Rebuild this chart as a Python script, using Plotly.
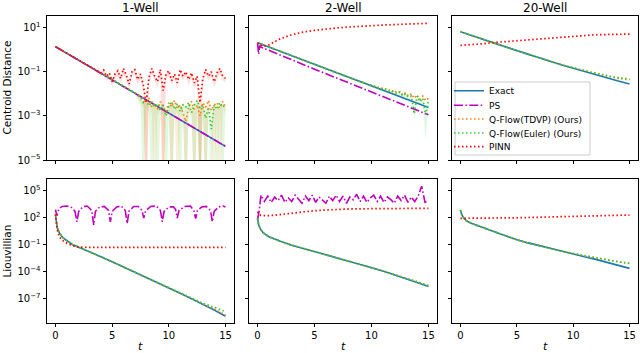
import numpy as np
import plotly.graph_objects as go

# values are log10 of what is plotted (all y axes are log)

# ---------------- top row: centroid distance ----------------
t_full = [0, 1, 2, 3, 4, 5, 6, 7, 8, 9, 10, 11, 12, 13, 14, 15]

# 1-Well
exact_w1 = [0.14, -0.16, -0.46, -0.76, -1.06, -1.36, -1.67, -1.97, -2.27, -2.57, -2.87, -3.17, -3.47, -3.77, -4.07, -4.38]
ps_w1 = [0.14, -0.16, -0.46, -0.76, -1.06, -1.36, -1.67, -1.97, -2.27, -2.57, -2.87, -3.17, -3.47, -3.77, -4.07, -4.38]

t_w1_q = [0, 1, 2, 3, 4, 5, 6, 7] + list(np.round(np.arange(7.5, 15.01, 0.25), 2))
tdvp_w1 = [0.14, -0.16, -0.46, -0.76, -1.06, -1.36, -1.66, -1.96,
           -2.1, -2.3, -2.4, -2.2, -2.6, -2.45, -2.7, -2.35, -2.55, -2.8, -2.4, -2.6, -2.3, -2.65, -2.5, -2.9,
           -3.25, -2.55, -2.35, -2.7, -2.5, -3.0, -2.4, -2.6, -2.3, -2.75, -2.5, -2.4, -2.65, -2.35, -2.6]
tdvp_w1_lo = [0.1, -0.2, -0.5, -0.8, -1.1, -1.4, -1.7, -2.0,
              -2.4, -2.6, -7, -2.5, -2.9, -7, -3.0, -2.7, -7, -3.1, -2.7, -7, -2.6, -7, -2.8, -3.2,
              -7, -2.9, -2.7, -7, -2.8, -7, -2.7, -7, -2.6, -3.0, -7, -2.7, -7, -2.6, -2.9]
euler_w1 = [0.14, -0.16, -0.46, -0.76, -1.06, -1.36, -1.66, -1.96,
            -2.15, -2.4, -2.3, -2.55, -2.35, -2.6, -2.45, -2.75, -2.5, -3.0, -2.55, -2.35, -2.7, -2.45, -2.8, -2.5,
            -2.6, -2.4, -2.85, -2.5, -2.3, -2.65, -2.5, -3.1, -2.6, -3.6, -2.5, -2.7, -2.4, -2.6, -2.45]
euler_w1_lo = [0.1, -0.2, -0.5, -0.8, -1.1, -1.4, -1.7, -2.0,
               -2.5, -7, -2.6, -2.9, -7, -2.9, -7, -3.0, -2.8, -7, -2.9, -7, -3.0, -2.8, -7, -2.8,
               -7, -2.7, -3.1, -7, -2.6, -7, -2.8, -7, -2.9, -7, -2.8, -7, -2.7, -7, -2.8]

t_w1_p = [0, 1, 2, 3] + list(np.round(np.arange(3.5, 15.01, 0.25), 2))
pinn_w1 = [0.14, -0.16, -0.46, -0.76,
           -0.88, -0.95, -1.05, -0.92, -1.2, -1.05, -1.45, -1.1, -0.95, -1.3,
           -0.85, -1.15, -1.55, -1.0, -0.9, -1.35, -1.1, -1.6, -2.4, -1.25,
           -0.85, -1.2, -1.45, -0.9, -1.85, -1.1, -0.95, -1.4, -1.1, -1.5,
           -0.9, -1.2, -1.0, -1.35, -1.05, -1.5, -1.2, -2.4, -1.3, -0.9,
           -1.2, -1.0, -1.45, -1.05, -0.85, -1.2, -1.3]
pinn_w1_lo = [0.1, -0.2, -0.5, -0.8,
              -1.0, -1.1, -1.2, -1.1, -1.4, -1.3, -1.7, -1.3, -1.2, -1.5,
              -1.1, -1.4, -1.8, -1.2, -1.1, -1.6, -1.3, -1.9, -7, -1.5,
              -1.1, -1.4, -1.7, -1.1, -7, -1.3, -1.2, -1.6, -1.3, -1.8,
              -1.1, -1.4, -1.2, -1.6, -1.3, -1.8, -1.4, -7, -1.5, -1.1,
              -1.4, -1.2, -1.7, -1.3, -1.1, -1.4, -1.5]

# 2-Well
exact_w2 = [0.32, 0.12, -0.07, -0.27, -0.46, -0.66, -0.86, -1.05, -1.25, -1.44, -1.64, -1.84, -2.03, -2.23, -2.42, -2.62]
t_w2_ps = [0, 0.1, 0.2, 0.3, 5, 10, 14.7, 15]
ps_w2 = [0.3, -0.2, 0.2, 0.12, -0.88, -1.91, -2.88, -2.95]
t_w2_q = [0, 1, 2, 3, 4, 5, 6, 7, 8, 9, 10] + list(np.round(np.arange(10.5, 15.01, 0.25), 2))
tdvp_w2 = [0.32, 0.12, -0.07, -0.27, -0.46, -0.66, -0.86, -1.05, -1.25, -1.44, -1.62,
           -1.68, -1.75, -1.74, -1.82, -1.8, -1.92, -1.85, -1.95, -1.9, -2.05, -1.95, -2.1, -2.0, -2.2,
           -2.05, -2.25, -2.1, -2.3, -2.2]
euler_w2 = [0.32, 0.12, -0.07, -0.27, -0.46, -0.66, -0.86, -1.05, -1.25, -1.44, -1.63,
            -1.7, -1.72, -1.8, -1.78, -1.88, -1.85, -1.9, -2.0, -1.92, -2.1, -2.0, -2.15, -2.1, -2.9,
            -2.1, -2.35, -2.2, -2.95, -2.3]
euler_w2_lo = [0.3, 0.1, -0.1, -0.3, -0.5, -0.7, -0.9, -1.1, -1.3, -1.5, -1.7,
               -1.8, -1.85, -1.9, -1.9, -2.0, -2.0, -2.05, -2.15, -2.1, -2.3, -2.15, -2.35, -2.3, -3.2,
               -2.3, -2.6, -2.4, -4.1, -2.5]
t_w2_p = [0, 0.5, 1, 1.5, 2, 3, 4, 5, 6, 7, 8, 9, 10, 11, 12, 13, 14, 15]
pinn_w2 = [0.32, 0.15, 0.22, 0.38, 0.5, 0.68, 0.8, 0.88, 0.95, 0.99, 1.03, 1.07, 1.1, 1.12, 1.14, 1.16, 1.18, 1.2]

# 20-Well
exact_w20 = [0.82, 0.64, 0.47, 0.30, 0.13, -0.04, -0.21, -0.37, -0.53, -0.69, -0.84, -0.99, -1.13, -1.28, -1.42, -1.55]
t_w20_q = [0, 1, 2, 3, 4, 5, 6, 7, 8, 9, 9.5, 10, 10.5, 11, 11.5, 12, 12.5, 13, 13.5, 14, 14.5, 15]
tdvp_w20 = [0.82, 0.64, 0.47, 0.30, 0.13, -0.04, -0.21, -0.37, -0.53, -0.69,
            -0.75, -0.82, -0.88, -0.95, -1.0, -1.07, -1.1, -1.2, -1.21, -1.3, -1.27, -1.37]
euler_w20 = [0.82, 0.64, 0.47, 0.30, 0.13, -0.04, -0.21, -0.37, -0.53, -0.69,
             -0.76, -0.81, -0.9, -0.94, -1.02, -1.06, -1.15, -1.16, -1.25, -1.26, -1.35, -1.33]
pinn_w20 = [0.20, 0.22, 0.27, 0.33, 0.37, 0.41, 0.45, 0.48, 0.52, 0.57, 0.62, 0.65, 0.68, 0.69, 0.70, 0.71]

# ---------------- bottom row: Liouvillian ----------------
# 1-Well
t_l1 = [0, 0.05, 0.15, 0.3, 0.5, 0.75, 1, 1.5, 2, 2.5, 3, 4, 5, 6, 7, 8, 9, 10, 11, 12, 13, 14, 15]
exact_l1 = [2.3, 1.5, 0.9, 0.4, 0.0, -0.32, -0.55, -0.98, -1.25, -1.5, -1.8, -2.33, -2.9, -3.47, -4.03, -4.6,
            -5.2, -5.8, -6.4, -7.0, -7.6, -8.25, -8.95]
tdvp_l1 = [2.3, 1.5, 0.9, 0.4, 0.0, -0.32, -0.55, -0.98, -1.25, -1.5, -1.8, -2.33, -2.9, -3.47, -4.03, -4.6,
           -5.2, -5.8, -6.4, -6.98, -7.55, -8.15, -8.8]
euler_l1 = [2.3, 1.5, 0.9, 0.4, 0.0, -0.32, -0.55, -0.98, -1.25, -1.5, -1.8, -2.33, -2.9, -3.47, -4.03, -4.6,
            -5.2, -5.8, -6.4, -6.95, -7.5, -7.95, -8.45]
t_l1_p = [0, 0.05, 0.15, 0.3, 0.5, 0.86, 1.45, 2.0, 2.5, 3, 5, 10, 15]
pinn_l1 = [2.4, 1.4, 0.7, 0.0, -0.4, -0.75, -1.1, -1.26, -1.29, -1.3, -1.3, -1.3, -1.3]
t_l1_ps = [0, 0.12, 0.3, 0.6, 1.0, 1.4, 1.72, 1.89, 2.05, 2.4, 2.8, 3.2, 3.37, 3.52, 3.9, 4.3, 4.68, 4.84,
           5.0, 5.4, 5.8, 6.16, 6.32, 6.48, 6.9, 7.3, 7.63, 7.79, 7.95, 8.4, 8.9, 9.26, 9.42, 9.58, 10.0,
           10.4, 10.6, 10.74, 10.9, 11.4, 11.9, 12.2, 12.37, 12.53, 12.9, 13.3, 13.68, 13.84, 14.0, 14.4,
           14.8, 15.0]
ps_l1 = [2.9, 2.2, 3.0, 3.25, 3.3, 3.15, 2.7, 1.55, 2.7, 3.2, 3.3, 2.8, 1.2, 2.7, 3.2, 3.25, 2.8, 1.55,
         2.7, 3.2, 3.3, 2.8, 1.35, 2.7, 3.25, 3.25, 2.8, 1.95, 2.75, 3.25, 3.3, 2.8, 1.55, 2.7, 3.2,
         3.2, 2.9, 1.95, 2.8, 3.25, 3.3, 2.8, 1.9, 2.8, 3.2, 3.25, 2.8, 1.55, 2.7, 3.2,
         3.3, 3.2]

# 2-Well
t_l2 = [0, 0.1, 0.25, 0.5, 1, 1.5, 2, 3, 4, 5, 6, 7, 8, 9, 10, 11, 12, 13, 14, 15]
exact_l2 = [1.93, 1.2, 0.75, 0.3, -0.12, -0.4, -0.62, -1.05, -1.4, -1.72, -2.07, -2.43, -2.8, -3.17,
            -3.55, -3.93, -4.33, -4.75, -5.2, -5.65]
tdvp_l2 = [1.93, 1.2, 0.75, 0.3, -0.12, -0.4, -0.62, -1.05, -1.4, -1.72, -2.07, -2.43, -2.8, -3.17,
           -3.55, -3.92, -4.3, -4.68, -5.1, -5.55]
euler_l2 = [1.93, 1.2, 0.75, 0.3, -0.12, -0.4, -0.62, -1.05, -1.4, -1.72, -2.07, -2.43, -2.8, -3.17,
            -3.55, -3.92, -4.31, -4.7, -5.12, -5.55]
t_l2_p = [0, 0.1, 0.3, 1, 2, 3, 4, 5, 6, 7, 8, 10, 12, 15]
pinn_l2 = [2.67, 2.4, 2.25, 2.22, 2.35, 2.5, 2.65, 2.78, 2.86, 2.92, 2.97, 3.0, 3.02, 3.04]
t_l2_ps = [0, 0.15, 0.3] + list(np.round(np.linspace(0.6, 15.0, 49), 2))
ps_l2 = [1.8, 2.8, 4.5,
         3.8, 4.4, 3.7, 4.3, 3.9, 4.5, 3.7, 4.2, 3.8, 4.5,
         4.0, 3.6, 4.4, 3.9, 4.5, 3.7, 4.3, 4.0, 3.6, 4.4,
         3.9, 4.5, 3.8, 4.4, 3.6, 4.3, 4.0, 4.6, 3.8, 4.4,
         3.7, 4.2, 4.5, 3.8, 4.4, 3.7, 4.3, 4.0, 3.6, 4.4,
         3.9, 4.5, 3.7, 4.3, 3.8, 4.4, 5.5, 3.7, 3.9]

# 20-Well
t_l20 = [0, 0.1, 0.3, 0.6, 1, 1.5, 2, 3, 4, 5, 6, 7, 8, 9, 10, 11, 12, 13, 14, 15]
exact_l20 = [2.85, 2.4, 1.93, 1.6, 1.35, 1.1, 0.9, 0.45, 0.0, -0.45, -0.8, -1.12, -1.42, -1.73, -2.03,
             -2.33, -2.63, -2.95, -3.3, -3.63]
tdvp_l20 = [2.85, 2.4, 1.93, 1.6, 1.35, 1.1, 0.9, 0.45, 0.0, -0.45, -0.8, -1.12, -1.42, -1.72, -1.98,
            -2.24, -2.48, -2.7, -2.88, -3.07]
euler_l20 = [2.85, 2.4, 1.93, 1.6, 1.35, 1.1, 0.9, 0.45, 0.0, -0.45, -0.8, -1.12, -1.42, -1.72, -1.97,
             -2.22, -2.46, -2.69, -2.9, -3.08]
pinn_l20 = [1.93, 1.93, 1.94, 1.95, 1.97, 1.99, 2.02, 2.05, 2.08, 2.11, 2.15, 2.18, 2.21, 2.24, 2.27, 2.3]

titles = ["1-Well", "2-Well", "20-Well"]
row_labels = ["Centroid Distance", "Liouvillian"]
names = ["Exact", "PS", "Q-Flow(TDVP) (Ours)", "Q-Flow(Euler) (Ours)", "PINN"]

# ---------------- styling ----------------
W, H = 640, 353
FONT = "DejaVu Sans"
DOT = "1.5px,2.5px"
DASHDOT = "9px,2.4px,1.5px,2.4px"
styles = {
    "Exact": dict(color="#1f77b4", width=1.6, dash="solid"),
    "PS": dict(color="#bf00bf", width=1.6, dash=DASHDOT),
    "Q-Flow(TDVP) (Ours)": dict(color="#ff7f0e", width=1.7, dash=DOT),
    "Q-Flow(Euler) (Ours)": dict(color="#32cd32", width=1.7, dash=DOT),
    "PINN": dict(color="#ff0000", width=1.7, dash=DOT),
}
band_fill = {
    "Q-Flow(TDVP) (Ours)": "rgba(255,127,14,0.15)",
    "Q-Flow(Euler) (Ours)": "rgba(50,205,50,0.15)",
    "PINN": "rgba(255,0,0,0.13)",
}

xdom = [(47, 234), (249, 437), (452, 638)]
ydom = [(16, 160), (179, 323)]  # pixel rows, top to bottom
yrange = [[-5, 1.53], [-9.7, 6.3]]
ytick_exp = [[1, -1, -3, -5], [5, 2, -1, -4, -7]]

fig = go.Figure()


def ax_ids(row, col):
    k = row * 3 + col + 1
    return ("x" if k == 1 else f"x{k}"), ("y" if k == 1 else f"y{k}")


def pw(v):
    return np.power(10.0, np.array(v, dtype=float))


def add_line(row, col, x, y, name, legend=None):
    xa, ya = ax_ids(row, col)
    fig.add_trace(go.Scatter(
        x=x, y=pw(y), mode="lines", name=name, line=styles[name],
        xaxis=xa, yaxis=ya, hoverinfo="skip",
        showlegend=legend is not None, legend=legend or "legend"))


def add_band(row, col, x, upper, lower, name):
    xa, ya = ax_ids(row, col)
    fig.add_trace(go.Scatter(
        x=list(x) + list(x)[::-1], y=np.concatenate([pw(upper), pw(lower)[::-1]]),
        mode="lines", fill="toself", fillcolor=band_fill[name], line=dict(width=0),
        xaxis=xa, yaxis=ya, hoverinfo="skip", showlegend=False))


# error bands
add_band(0, 0, t_w1_p, pinn_w1, pinn_w1_lo, "PINN")
add_band(0, 0, t_w1_q, tdvp_w1, tdvp_w1_lo, "Q-Flow(TDVP) (Ours)")
add_band(0, 0, t_w1_q, euler_w1, euler_w1_lo, "Q-Flow(Euler) (Ours)")
add_band(0, 1, t_w2_q, euler_w2, euler_w2_lo, "Q-Flow(Euler) (Ours)")

# 1-Well top (also feeds the legend)
add_line(0, 0, t_full, exact_w1, "Exact", "legend")
add_line(0, 0, t_full, ps_w1, "PS", "legend2")
add_line(0, 0, t_w1_q, tdvp_w1, "Q-Flow(TDVP) (Ours)", "legend3")
add_line(0, 0, t_w1_q, euler_w1, "Q-Flow(Euler) (Ours)", "legend4")
add_line(0, 0, t_w1_p, pinn_w1, "PINN", "legend5")

add_line(0, 1, t_full, exact_w2, "Exact")
add_line(0, 1, t_w2_ps, ps_w2, "PS")
add_line(0, 1, t_w2_q, tdvp_w2, "Q-Flow(TDVP) (Ours)")
add_line(0, 1, t_w2_q, euler_w2, "Q-Flow(Euler) (Ours)")
add_line(0, 1, t_w2_p, pinn_w2, "PINN")

add_line(0, 2, t_full, exact_w20, "Exact")
add_line(0, 2, t_w20_q, tdvp_w20, "Q-Flow(TDVP) (Ours)")
add_line(0, 2, t_w20_q, euler_w20, "Q-Flow(Euler) (Ours)")
add_line(0, 2, t_full, pinn_w20, "PINN")

add_line(1, 0, t_l1, exact_l1, "Exact")
add_line(1, 0, t_l1_ps, ps_l1, "PS")
add_line(1, 0, t_l1, tdvp_l1, "Q-Flow(TDVP) (Ours)")
add_line(1, 0, t_l1, euler_l1, "Q-Flow(Euler) (Ours)")
add_line(1, 0, t_l1_p, pinn_l1, "PINN")

add_line(1, 1, t_l2, exact_l2, "Exact")
add_line(1, 1, t_l2_ps, ps_l2, "PS")
add_line(1, 1, t_l2, tdvp_l2, "Q-Flow(TDVP) (Ours)")
add_line(1, 1, t_l2, euler_l2, "Q-Flow(Euler) (Ours)")
add_line(1, 1, t_l2_p, pinn_l2, "PINN")

add_line(1, 2, t_l20, exact_l20, "Exact")
add_line(1, 2, t_l20, tdvp_l20, "Q-Flow(TDVP) (Ours)")
add_line(1, 2, t_l20, euler_l20, "Q-Flow(Euler) (Ours)")
add_line(1, 2, t_full, pinn_l20, "PINN")

# axes
layout = {}
for row in range(2):
    for col in range(3):
        k = row * 3 + col + 1
        xa, ya = ax_ids(row, col)
        x0, x1 = xdom[col]
        y0, y1 = ydom[row]
        common = dict(showline=True, linecolor="black", linewidth=0.9, mirror=True, ticks="outside",
                      ticklen=3.5, tickwidth=0.9, tickcolor="black", showgrid=False, zeroline=False,
                      automargin=False, tickfont=dict(family=FONT, size=10, color="black"))
        layout["xaxis" if k == 1 else f"xaxis{k}"] = dict(
            common, domain=[x0 / W, x1 / W], range=[-0.75, 15.75], tickvals=[0, 5, 10, 15],
            showticklabels=(row == 1), anchor=ya)
        exps = ytick_exp[row]
        layout["yaxis" if k == 1 else f"yaxis{k}"] = dict(
            common, type="log", domain=[1 - y1 / H, 1 - y0 / H], range=yrange[row],
            tickvals=[10.0 ** e for e in exps],
            ticktext=[f"10<sup>{str(e).replace('-', '−')}</sup>" for e in exps],
            showticklabels=(col == 0), anchor=xa)

annotations = []
for col in range(3):
    cx = (xdom[col][0] + xdom[col][1]) / 2 / W
    annotations.append(dict(text=titles[col], x=cx, y=1 - 8 / H, xref="paper", yref="paper",
                            showarrow=False, xanchor="center", yanchor="middle",
                            font=dict(family=FONT, size=12, color="black")))
    annotations.append(dict(text="<i>t</i>", x=cx, y=1 - 346 / H, xref="paper", yref="paper",
                            showarrow=False, xanchor="center", yanchor="middle",
                            font=dict(family=FONT, size=11, color="black")))
for row in range(2):
    cy = 1 - (ydom[row][0] + ydom[row][1]) / 2 / H
    annotations.append(dict(text=row_labels[row], x=6.5 / W, y=cy, xref="paper", yref="paper",
                            showarrow=False, textangle=-90, xanchor="center", yanchor="middle",
                            font=dict(family=FONT, size=10.5, color="black")))

# legend: one entry per legend so the rows can be spaced like the original
leg_rows = [90.7, 105.3, 119, 133, 146.7]
for i, yc in enumerate(leg_rows):
    key = "legend" if i == 0 else f"legend{i + 1}"
    layout[key] = dict(x=449 / W, y=1 - yc / H, xanchor="left", yanchor="middle",
                       bgcolor="rgba(0,0,0,0)", borderwidth=0,
                       font=dict(family=FONT, size=9, color="black"))

shapes = [dict(type="rect", xref="paper", yref="paper", x0=455 / W, x1=590 / W,
               y0=1 - 155 / H, y1=1 - 82 / H, fillcolor="rgba(255,255,255,0.8)",
               line=dict(color="#cccccc", width=1), layer="above")]

fig.update_layout(
    width=W, height=H, margin=dict(l=0, r=0, t=0, b=0),
    template="none", plot_bgcolor="white", paper_bgcolor="white",
    font=dict(family=FONT, size=10, color="black"),
    annotations=annotations, shapes=shapes, **layout)

# the page body has a default 8px margin; drop it so the figure sits at the window's corner
fig.write_html("out.html", config={"displayModeBar": False},
               post_script="document.body.style.margin = '0';")
